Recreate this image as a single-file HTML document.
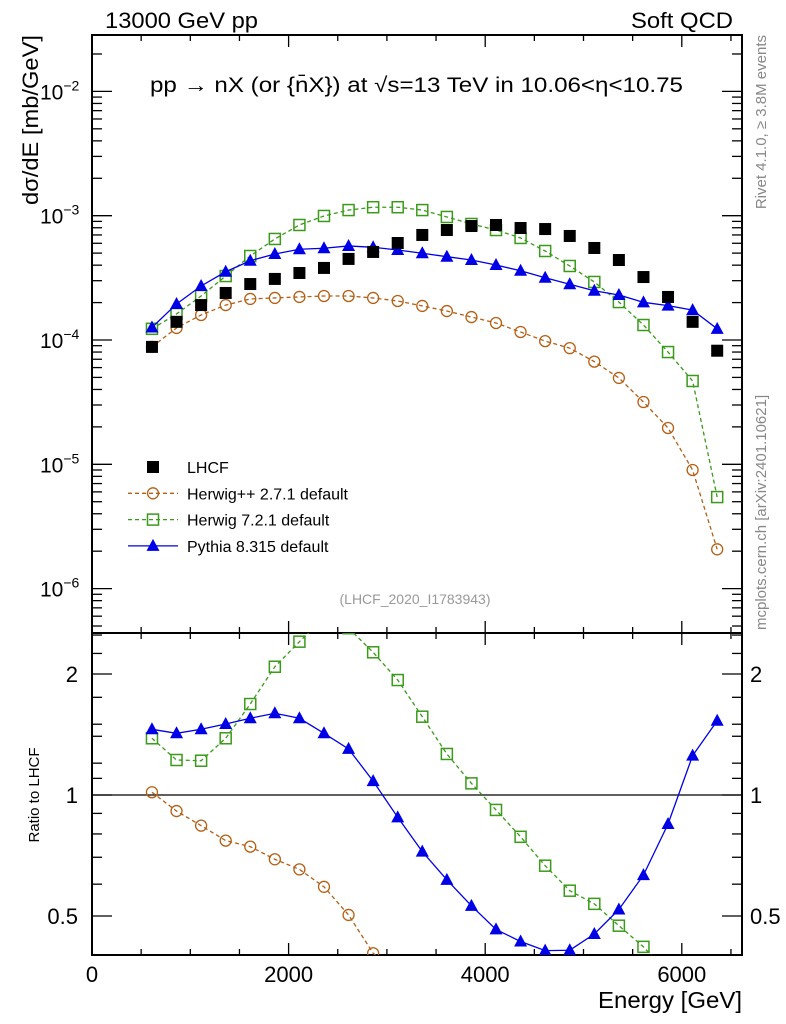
<!DOCTYPE html>
<html><head><meta charset="utf-8"><style>
html,body{margin:0;padding:0;background:#fff;width:786px;height:1024px;overflow:hidden;}
svg{display:block;font-family:"Liberation Sans",sans-serif;}
</style></head><body>
<svg id="chart" width="786" height="1024" viewBox="0 0 786 1024">
<defs>
<clipPath id="clipMain"><rect x="92" y="35" width="650" height="598"/></clipPath>
<clipPath id="clipRatio"><rect x="92" y="633" width="650" height="322"/></clipPath>
</defs>
<text x="105" y="28" font-size="22" textLength="153" lengthAdjust="spacingAndGlyphs">13000 GeV pp</text>
<text x="631" y="28" font-size="22" textLength="102" lengthAdjust="spacingAndGlyphs">Soft QCD</text>
<text x="150" y="92" font-size="21" textLength="533" lengthAdjust="spacingAndGlyphs">pp &#8594; nX (or {n̄X}) at √s=13 TeV in 10.06&lt;η&lt;10.75</text>
<text transform="translate(38,205) rotate(-90)" font-size="22" textLength="170" lengthAdjust="spacingAndGlyphs">dσ/dE [mb/GeV]</text>
<text transform="translate(39,795) rotate(-90)" font-size="15" text-anchor="middle">Ratio to LHCF</text>
<text x="598" y="1008" font-size="23" textLength="144" lengthAdjust="spacingAndGlyphs">Energy [GeV]</text>
<text transform="translate(766,35) rotate(-90)" font-size="15" fill="#888" text-anchor="end">Rivet 4.1.0, ≥ 3.8M events</text>
<text transform="translate(766,630) rotate(-90)" font-size="15" fill="#888" text-anchor="start">mcplots.cern.ch [arXiv:2401.10621]</text>
<text x="415" y="604" font-size="14" fill="#999" text-anchor="middle">(LHCF_2020_I1783943)</text>
<g id="axes"></g>
<g id="series"></g>
<g id="legend"></g>
</svg>
<script>
const energies = [610,860,1110,1360,1610,1860,2110,2360,2610,2860,3110,3360,3610,3860,4110,4360,4610,4860,5110,5360,5610,5860,6110,6360];
const lhcf = [8.8e-5,1.40e-4,1.91e-4,2.39e-4,2.82e-4,3.10e-4,3.46e-4,3.80e-4,4.49e-4,5.11e-4,6.03e-4,7.0e-4,7.67e-4,8.26e-4,8.42e-4,7.96e-4,7.81e-4,6.87e-4,5.50e-4,4.40e-4,3.21e-4,2.22e-4,1.40e-4,8.2e-5];
const herwigpp = [8.8e-5,1.25e-4,1.59e-4,1.91e-4,2.14e-4,2.18e-4,2.22e-4,2.26e-4,2.26e-4,2.18e-4,2.06e-4,1.88e-4,1.71e-4,1.53e-4,1.37e-4,1.16e-4,9.8e-5,8.6e-5,6.7e-5,4.95e-5,3.17e-5,1.96e-5,9.0e-6,2.07e-6];
const herwig7 = [1.23e-4,1.62e-4,2.26e-4,3.27e-4,4.74e-4,6.50e-4,8.42e-4,9.95e-4,1.11e-3,1.17e-3,1.17e-3,1.11e-3,9.77e-4,8.58e-4,7.67e-4,6.62e-4,5.20e-4,3.94e-4,2.93e-4,2.02e-4,1.32e-4,8.0e-5,4.68e-5,5.45e-6];
const pythia = [1.26e-4,1.95e-4,2.72e-4,3.54e-4,4.34e-4,4.92e-4,5.37e-4,5.47e-4,5.71e-4,5.57e-4,5.30e-4,4.99e-4,4.68e-4,4.40e-4,4.01e-4,3.61e-4,3.17e-4,2.81e-4,2.49e-4,2.30e-4,2.01e-4,1.89e-4,1.74e-4,1.23e-4];
const ratioHerwigpp = [1.016,0.912,0.839,0.770,0.744,0.692,0.653,0.591,0.503,0.404,0.36,0.33,0.31,0.29,0.27,0.25,0.23,0.21,0.2,0.19,0.18,0.17,0.16,0.15];
const ratioHerwig7 = [1.384,1.222,1.217,1.384,1.684,2.085,2.407,2.75,2.6,2.265,1.932,1.566,1.265,1.069,0.918,0.787,0.667,0.578,0.536,0.473,0.419,0.36,0.3,0.1];
const ratioPythia = [1.457,1.424,1.457,1.502,1.552,1.597,1.552,1.424,1.302,1.083,0.880,0.723,0.615,0.530,0.463,0.432,0.410,0.411,0.451,0.519,0.632,0.847,1.253,1.530];
const xTicks = [0,2000,4000,6000];
const yDecades = [-6,-5,-4,-3,-2];
const ratioTicks = [0.5,1,2];
const ratioMinor = [0.6,0.7,0.8,0.9,1.1,1.2,1.4,1.5,1.75,2.25,2.5];

const NS='http://www.w3.org/2000/svg';
const X0=92,X1=742,MT=35,MB=633,RB=955;
const xs=v=>X0+(v/1000)*98.3;
const ys=v=>340-(Math.log10(v)+4)*124.3;
const yr=v=>795-121*Math.log2(v);
function mk(tag,attrs,parent){const e=document.createElementNS(NS,tag);for(const k in attrs)e.setAttribute(k,attrs[k]);parent.appendChild(e);return e;}
const axes=document.getElementById('axes');
const ser=document.getElementById('series');
const leg=document.getElementById('legend');

let f1=mk('rect',{x:X0,y:MT,width:X1-X0,height:MB-MT,fill:'none',stroke:'#000','stroke-width':2},axes);


let f2=mk('rect',{x:X0,y:MB,width:X1-X0,height:RB-MB,fill:'none',stroke:'#000','stroke-width':2},axes);


let ref=mk('line',{x1:X0,x2:X1,y1:yr(1),y2:yr(1),stroke:'#000','stroke-width':1.3},axes);



function tick(x1,y1,x2,y2){mk('line',{x1:x1,y1:y1,x2:x2,y2:y2,stroke:'#000','stroke-width':1.3},axes);}
for(let v=0;v<=6500;v+=500){
  const x=xs(v);const L=(v%2000===0)?12:6;
  [MT,MB].forEach(y=>tick(x,y,x,y+L));
  [MB,RB].forEach(y=>tick(x,y,x,y-L));
}
xTicks.forEach(v=>{const t=mk('text',{x:xs(v),y:982,'font-size':22,'text-anchor':'middle'},axes);t.textContent=v;

});
for(let d=-7;d<=-2;d++){
  for(let m=1;m<10;m++){
    const y=ys(m*Math.pow(10,d));
    if(y<MT||y>MB)continue;
    const L=m===1?20:10;
    tick(X0,y,X0+L,y);tick(X1,y,X1-L,y);
  }
}
yDecades.forEach(d=>{
  const y=ys(Math.pow(10,d));
  const t=mk('text',{x:40,y:y+8,'font-size':21},axes);
  
  
  t.appendChild(document.createTextNode('10'));
  const s=mk('tspan',{dy:-9,'font-size':14},t);s.textContent='\u2212'+(-d);
});
ratioTicks.forEach(v=>{
  const y=yr(v);tick(X0,y,X0+20,y);tick(X1,y,X1-20,y);
  const t=mk('text',{x:78,y:y+8,'font-size':22,'text-anchor':'end'},axes);t.textContent=v;
  
  
  const t2=mk('text',{x:750,y:y+8,'font-size':22},axes);t2.textContent=v;
  
  
});
ratioMinor.forEach(v=>{const y=yr(v);tick(X0,y,X0+10,y);tick(X1,y,X1-10,y);});

function marker(g,type,x,y,color){
  if(type==='sq') return mk('rect',{x:x-6,y:y-6,width:12,height:12,fill:'#000'},g);
  if(type==='circ') return mk('circle',{cx:x,cy:y,r:5.5,fill:'#fff','fill-opacity':0,stroke:color,'stroke-width':1.3},g);
  if(type==='osq') return mk('rect',{x:x-5.5,y:y-5.5,width:11,height:11,fill:'none',stroke:color,'stroke-width':1.5},g);
  if(type==='tri') return mk('path',{d:`M${x} ${y-7}L${x+6.5} ${y+5}L${x-6.5} ${y+5}Z`,fill:color},g);
}
function series(name,xv,yv,ymap,clip,type,color,dash){
  const g=mk('g',{'clip-path':`url(#${clip})`},ser);
  
  
  if(color){
    const pts=xv.map((e,i)=>xs(e)+','+ymap(yv[i])).join(' ');
    const pl=mk('polyline',{points:pts,fill:'none',stroke:color,'stroke-width':1.3},g);
    if(dash)pl.setAttribute('stroke-dasharray','4,3');
  }
  xv.forEach((e,i)=>{const m=marker(g,type,xs(e),ymap(yv[i]),color);
    
    });
}
const C_HPP='#b35f14',C_H7='#3a9a1a',C_PY='#0000e6';
series('herwigpp-main',energies,herwigpp,ys,'clipMain','circ',C_HPP,true);
series('herwig7-main',energies,herwig7,ys,'clipMain','osq',C_H7,true);
series('pythia-main',energies,pythia,ys,'clipMain','tri',C_PY,false);
series('lhcf-data',energies,lhcf,ys,'clipMain','sq',null,false);
series('herwigpp-ratio',energies,ratioHerwigpp,yr,'clipRatio','circ',C_HPP,true);
series('herwig7-ratio',energies,ratioHerwig7,yr,'clipRatio','osq',C_H7,true);
series('pythia-ratio',energies,ratioPythia,yr,'clipRatio','tri',C_PY,false);

const entries=[['LHCF','sq',null,false],['Herwig++ 2.7.1 default','circ',C_HPP,true],['Herwig 7.2.1 default','osq',C_H7,true],['Pythia 8.315 default','tri',C_PY,false]];
entries.forEach((e,i)=>{
  const y=467+i*26.3;
  const g=mk('g',{},leg);
  
  
  if(e[2]){const l=mk('line',{x1:128,x2:178,y1:y,y2:y,stroke:e[2],'stroke-width':1.3},g);if(e[3])l.setAttribute('stroke-dasharray','4,3');}
  marker(g,e[1],153,y,e[2]);
  const t=mk('text',{x:187,y:y+6,'font-size':16},g);t.textContent=e[0];
});
</script>
</body></html>
